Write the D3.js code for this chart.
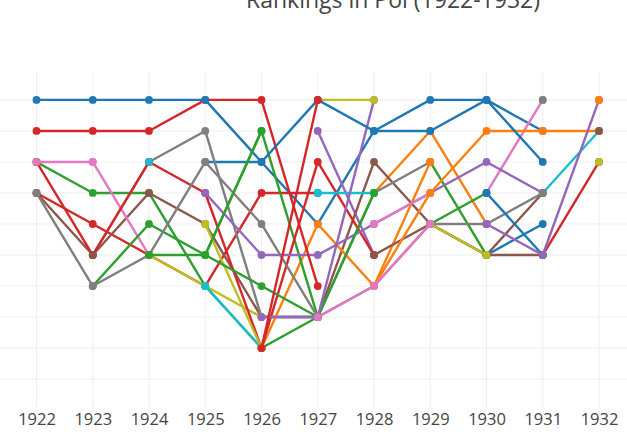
<!DOCTYPE html>
<html>
<head>
<meta charset="utf-8">
<script src="https://cdn.jsdelivr.net/npm/d3@7"></script>
<style>
	body { margin: 0; background: #fff; }
	svg { display: block; font-family: "Open Sans", Verdana, Arial, sans-serif; }
</style>
</head>
<body>
<div id="chart"></div>
<script>
var title = "Rankings in Pol (1922-1932)";
var years = [1922, 1923, 1924, 1925, 1926, 1927, 1928, 1929, 1930, 1931, 1932];
var rankTicks = [1, 2, 3, 4, 5, 6, 7, 8, 9, 10];
var teams = [];
// one row per trace, values are the rank for each year (null = not in the league)
var ranks = [
	[null,null,null,3,3,5,2,1,1,2,null],
	[null,null,null,null,null,null,4,2,5,null,null],
	[3,4,4,7,9,8,null,3,6,null,null],
	[4,5,6,7,4,4,null,null,null,6,3],
	[null,null,null,null,null,2,6,null,null,null,null],
	[4,6,4,5,8,8,3,5,6,6,null],
	[null,3,6,null,null,null,null,null,4,1,null],
	[null,6,3,2,8,8,4,3,null,null,null],
	[null,null,6,7,8,null,null,null,null,null,null],
	[null,null,null,7,9,null,null,null,null,4,2],
	[null,null,null,null,null,null,null,null,6,5,null],
	[null,null,null,null,9,5,7,3,null,null,null],
	[null,7,5,6,2,8,null,5,4,null,null],
	[3,6,3,4,9,3,6,null,null,null,null],
	[null,null,null,4,6,6,5,4,3,4,null],
	[null,null,null,null,null,null,6,5,6,4,null],
	[null,null,null,null,null,null,5,4,null,null,null],
	[4,7,6,3,5,8,7,5,5,4,null],
	[null,null,null,5,9,null,null,5,6,null,null],
	[null,null,3,null,null,4,4,null,null,null,null],
	[null,null,null,null,null,null,null,null,4,6,null],
	[null,null,null,null,null,null,7,4,2,2,2],
	[null,null,6,6,7,8,4,null,null,null,null],
	[2,2,2,1,1,7,null,null,null,null,null],
	[null,null,null,null,8,8,1,null,5,6,1],
	[null,6,null,null,null,null,null,null,null,null,2],
	[3,3,null,null,null,8,7,5,null,null,null],
	[null,null,null,null,null,null,null,null,null,1,null],
	[null,null,null,null,null,1,1,null,null,null,3],
	[null,null,null,7,null,4,null,null,null,null,null],
	[1,1,1,1,3,1,2,2,1,3,null],
	[null,null,null,null,null,null,null,null,null,null,1],
	[null,null,null,6,2,null,null,null,null,null,null],
	[null,null,null,null,9,1,null,null,null,null,null]
];
ranks.forEach((r, i) => teams.push("Team " + (i + 1)));

var width = 627, height = 432;
var margin = {top: 72, bottom: 407};

var svg = d3.select("#chart").append("svg")
	.attr("width", width)
	.attr("height", height);

var xScale = d3.scaleLinear()
	.domain([1922, 1932])
	.range([36.5, 599]);
var yScale = d3.scaleLinear()
	.domain([0.1, 10.9])
	.range([margin.top, margin.bottom]);
var color = d3.scaleOrdinal(d3.schemeCategory10).domain(d3.range(10));

// grid
svg.append("g")
	.selectAll("line")
	.data(years)
	.enter()
	.append("line")
	.attr("x1", d => xScale(d))
	.attr("x2", d => xScale(d))
	.attr("y1", margin.top)
	.attr("y2", margin.bottom)
	.attr("stroke", "#eee")
	.attr("stroke-width", 1);
svg.append("g")
	.selectAll("line")
	.data(rankTicks)
	.enter()
	.append("line")
	.attr("x1", 0)
	.attr("x2", width)
	.attr("y1", d => yScale(d))
	.attr("y2", d => yScale(d))
	.attr("stroke", "#eee")
	.attr("stroke-width", 1);

// x axis labels
var xAxis = d3.axisBottom(xScale)
	.tickValues(years)
	.tickFormat(d3.format("d"))
	.tickSize(0)
	.tickPadding(0);
var axisG = svg.append("g")
	.attr("transform", "translate(0," + 413 + ")")
	.call(xAxis);
axisG.select(".domain").remove();
axisG.selectAll("text")
	.attr("fill", "#444")
	.attr("font-size", "16.5px")
	.attr("font-family", "\"Open Sans\", Verdana, Arial, sans-serif");

var line = d3.line()
	.defined(d => d.rank != null)
	.x(d => xScale(d.year))
	.y(d => yScale(d.rank));

var traces = svg.append("g")
	.selectAll("g")
	.data(ranks.map((r, i) => ({name: teams[i], idx: i, values: r.map((v, j) => ({year: years[j], rank: v}))})))
	.enter()
	.append("g");

traces.append("path")
	.attr("d", d => line(d.values))
	.attr("fill", "none")
	.attr("stroke", d => color(d.idx % 10))
	.attr("stroke-width", 2.4)
	.attr("stroke-linejoin", "round");

traces.selectAll("circle")
	.data(d => d.values.filter(v => v.rank != null).map(v => ({idx: d.idx, year: v.year, rank: v.rank})))
	.enter()
	.append("circle")
	.attr("cx", d => xScale(d.year))
	.attr("cy", d => yScale(d.rank))
	.attr("r", 3.9)
	.attr("fill", d => color(d.idx % 10));

svg.append("text")
	.attr("x", 393)
	.attr("y", 8)
	.attr("text-anchor", "middle")
	.attr("fill", "#444")
	.attr("font-size", "23px")
	.text(title);
</script>
</body>
</html>
